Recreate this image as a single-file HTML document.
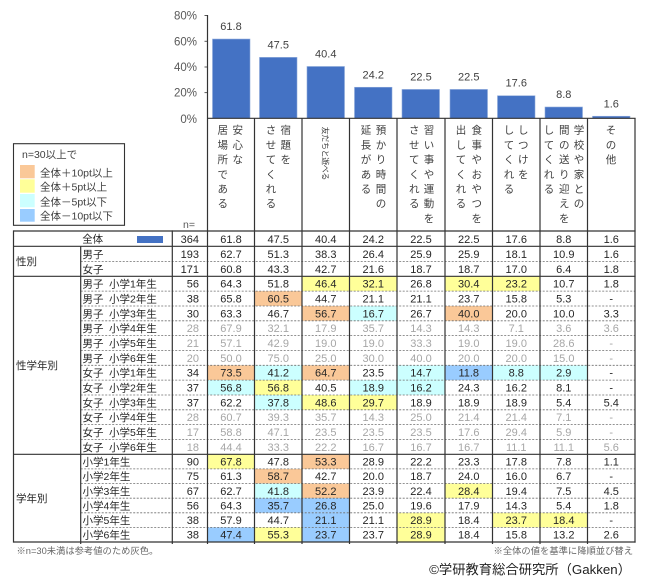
<!DOCTYPE html>
<html><head><meta charset="utf-8">
<style>
html,body{margin:0;padding:0;background:#fff;}
svg{display:block;}
text{font-family:"Liberation Sans","Noto Sans CJK JP",sans-serif;}
.d text{font-size:11px;fill:#262626;text-anchor:middle;}
.d text.n{text-anchor:end;}
.d text.l{text-anchor:start;font-size:10.5px;}
.g text{fill:#a6a6a6;}
.g text.l{fill:#262626;}
.h text{font-size:10.5px;fill:#404040;text-anchor:middle;}
.r text{font-size:8px;fill:#404040;text-anchor:middle;}
</style></head>
<body>
<svg width="657" height="585" viewBox="0 0 657 585" xmlns="http://www.w3.org/2000/svg">
<rect width="657" height="585" fill="#fff"/>

<g font-size="11.5" fill="#595959" text-anchor="end">
<text x="197" y="19.7">80%</text>
<text x="197" y="45.3">60%</text>
<text x="197" y="71">40%</text>
<text x="197" y="96.6">20%</text>
<text x="197" y="122.8">0%</text>
</g>
<g stroke="#595959" stroke-width="1">
<line x1="204.5" y1="15.5" x2="207.5" y2="15.5"/>
<line x1="204.5" y1="41.3" x2="207.5" y2="41.3"/>
<line x1="204.5" y1="67" x2="207.5" y2="67"/>
<line x1="204.5" y1="92.6" x2="207.5" y2="92.6"/>
</g>

<g fill="#4472C4" stroke="#8eaadb" stroke-width="0.6">
<rect x="212.5" y="39.04" width="37.5" height="79.26"/>
<rect x="259.5" y="57.38" width="37.5" height="60.92"/>
<rect x="307" y="66.49" width="37.5" height="51.81"/>
<rect x="354.5" y="87.26" width="37.5" height="31.04"/>
<rect x="402" y="89.44" width="37.5" height="28.86"/>
<rect x="450" y="89.44" width="37.5" height="28.86"/>
<rect x="497.5" y="95.73" width="37.5" height="22.57"/>
<rect x="545" y="107.01" width="37.5" height="11.29"/>
<rect x="592.5" y="116.25" width="37.5" height="2.05"/>
</g>
<g font-size="11" fill="#404040" text-anchor="middle">
<text x="231" y="30">61.8</text>
<text x="278.25" y="48.4">47.5</text>
<text x="325.75" y="57.5">40.4</text>
<text x="373.25" y="78.3">24.2</text>
<text x="421" y="80.4">22.5</text>
<text x="468.75" y="80.4">22.5</text>
<text x="516.25" y="86.7">17.6</text>
<text x="563.75" y="98">8.8</text>
<text x="611.25" y="107.3">1.6</text>
</g>

<g class="h">
<text x="237.7" y="133.7">安</text><text x="237.7" y="148.4">心</text><text x="237.7" y="163.1">な</text>
<text x="222.7" y="133.7">居</text><text x="222.7" y="148.4">場</text><text x="222.7" y="163.1">所</text><text x="222.7" y="177.8">で</text><text x="222.7" y="192.5">あ</text><text x="222.7" y="207.2">る</text>
<text x="285.7" y="133.7">宿</text><text x="285.7" y="148.4">題</text><text x="285.7" y="163.1">を</text>
<text x="271" y="133.7">さ</text><text x="271" y="148.4">せ</text><text x="271" y="163.1">て</text><text x="271" y="177.8">く</text><text x="271" y="192.5">れ</text><text x="271" y="207.2">る</text>
<text x="381" y="133.7">預</text><text x="381" y="148.4">か</text><text x="381" y="163.1">り</text><text x="381" y="177.8">時</text><text x="381" y="192.5">間</text><text x="381" y="207.2">の</text>
<text x="366" y="133.7">延</text><text x="366" y="148.4">長</text><text x="366" y="163.1">が</text><text x="366" y="177.8">あ</text><text x="366" y="192.5">る</text>
<text x="429" y="133.7">習</text><text x="429" y="148.4">い</text><text x="429" y="163.1">事</text><text x="429" y="177.8">や</text><text x="429" y="192.5">運</text><text x="429" y="207.2">動</text><text x="429" y="221.9">を</text>
<text x="414.3" y="133.7">さ</text><text x="414.3" y="148.4">せ</text><text x="414.3" y="163.1">て</text><text x="414.3" y="177.8">く</text><text x="414.3" y="192.5">れ</text><text x="414.3" y="207.2">る</text>
<text x="476.7" y="133.7">食</text><text x="476.7" y="148.4">事</text><text x="476.7" y="163.1">や</text><text x="476.7" y="177.8">お</text><text x="476.7" y="192.5">や</text><text x="476.7" y="207.2">つ</text><text x="476.7" y="221.9">を</text>
<text x="461" y="133.7">出</text><text x="461" y="148.4">し</text><text x="461" y="163.1">て</text><text x="461" y="177.8">く</text><text x="461" y="192.5">れ</text><text x="461" y="207.2">る</text>
<text x="523.3" y="133.7">し</text><text x="523.3" y="148.4">つ</text><text x="523.3" y="163.1">け</text><text x="523.3" y="177.8">を</text>
<text x="509" y="133.7">し</text><text x="509" y="148.4">て</text><text x="509" y="163.1">く</text><text x="509" y="177.8">れ</text><text x="509" y="192.5">る</text>
<text x="579" y="133.7">学</text><text x="579" y="148.4">校</text><text x="579" y="163.1">や</text><text x="579" y="177.8">家</text><text x="579" y="192.5">と</text><text x="579" y="207.2">の</text>
<text x="564.3" y="133.7">間</text><text x="564.3" y="148.4">の</text><text x="564.3" y="163.1">送</text><text x="564.3" y="177.8">り</text><text x="564.3" y="192.5">迎</text><text x="564.3" y="207.2">え</text><text x="564.3" y="221.9">を</text>
<text x="549" y="133.7">し</text><text x="549" y="148.4">て</text><text x="549" y="163.1">く</text><text x="549" y="177.8">れ</text><text x="549" y="192.5">る</text>
<text x="611" y="133.7">そ</text><text x="611" y="148.4">の</text><text x="611" y="163.1">他</text>
</g>
<g class="r">
<text transform="translate(325.5,130.8) rotate(90)" dy="2.8">友</text>
<text transform="translate(325.5,138.4) rotate(90)" dy="2.8">だ</text>
<text transform="translate(325.5,146) rotate(90)" dy="2.8">ち</text>
<text transform="translate(325.5,153.6) rotate(90)" dy="2.8">と</text>
<text transform="translate(325.5,161.2) rotate(90)" dy="2.8">遊</text>
<text transform="translate(325.5,168.8) rotate(90)" dy="2.8">べ</text>
<text transform="translate(325.5,176.4) rotate(90)" dy="2.8">る</text>
</g>

<rect x="13.5" y="143.7" width="111" height="81.6" fill="#fff" stroke="#333" stroke-width="1.1"/>
<g font-size="10.5" fill="#404040">
<text x="22" y="158">n=30以上で</text>
<rect x="20" y="165" width="14.7" height="13.3" fill="#FAC898"/>
<rect x="20" y="179.3" width="14.7" height="13.4" fill="#FFFF99"/>
<rect x="20" y="194" width="14.7" height="13.3" fill="#CCFFFF"/>
<rect x="20" y="209" width="14.7" height="12.7" fill="#99CCFF"/>
<text x="40" y="176.7">全体＋10pt以上</text>
<text x="40" y="190.7">全体＋5pt以上</text>
<text x="40" y="205.7">全体－5pt以下</text>
<text x="40" y="219.3">全体－10pt以下</text>
</g>
<text x="183" y="228" font-size="10.5" fill="#595959">n=</text>

<g>
<rect x="302" y="276.3" width="47.5" height="14.8" fill="#FFFF99"/>
<rect x="349.5" y="276.3" width="47.5" height="14.8" fill="#FFFF99"/>
<rect x="445" y="276.3" width="47.5" height="14.8" fill="#FFFF99"/>
<rect x="492.5" y="276.3" width="47.5" height="14.8" fill="#FFFF99"/>
<rect x="254.5" y="291.1" width="47.5" height="14.9" fill="#FAC898"/>
<rect x="302" y="306" width="47.5" height="14.8" fill="#FAC898"/>
<rect x="349.5" y="306" width="47.5" height="14.8" fill="#CCFFFF"/>
<rect x="445" y="306" width="47.5" height="14.8" fill="#FAC898"/>
<rect x="207.5" y="365.3" width="47" height="14.8" fill="#FAC898"/>
<rect x="254.5" y="365.3" width="47.5" height="14.8" fill="#CCFFFF"/>
<rect x="302" y="365.3" width="47.5" height="14.8" fill="#FAC898"/>
<rect x="397" y="365.3" width="48" height="14.8" fill="#CCFFFF"/>
<rect x="445" y="365.3" width="47.5" height="14.8" fill="#99CCFF"/>
<rect x="492.5" y="365.3" width="47.5" height="14.8" fill="#CCFFFF"/>
<rect x="540" y="365.3" width="47.5" height="14.8" fill="#CCFFFF"/>
<rect x="207.5" y="380.1" width="47" height="14.9" fill="#CCFFFF"/>
<rect x="254.5" y="380.1" width="47.5" height="14.9" fill="#FFFF99"/>
<rect x="349.5" y="380.1" width="47.5" height="14.9" fill="#CCFFFF"/>
<rect x="397" y="380.1" width="48" height="14.9" fill="#CCFFFF"/>
<rect x="254.5" y="395" width="47.5" height="14.8" fill="#CCFFFF"/>
<rect x="302" y="395" width="47.5" height="14.8" fill="#FFFF99"/>
<rect x="349.5" y="395" width="47.5" height="14.8" fill="#FFFF99"/>
<rect x="207.5" y="454.3" width="47" height="14.6" fill="#FFFF99"/>
<rect x="302" y="454.3" width="47.5" height="14.6" fill="#FAC898"/>
<rect x="254.5" y="468.9" width="47.5" height="14.6" fill="#FAC898"/>
<rect x="254.5" y="483.5" width="47.5" height="14.7" fill="#CCFFFF"/>
<rect x="302" y="483.5" width="47.5" height="14.7" fill="#FAC898"/>
<rect x="445" y="483.5" width="47.5" height="14.7" fill="#FFFF99"/>
<rect x="254.5" y="498.2" width="47.5" height="14.6" fill="#99CCFF"/>
<rect x="302" y="498.2" width="47.5" height="14.6" fill="#99CCFF"/>
<rect x="302" y="512.8" width="47.5" height="14.6" fill="#99CCFF"/>
<rect x="397" y="512.8" width="48" height="14.6" fill="#FFFF99"/>
<rect x="492.5" y="512.8" width="47.5" height="14.6" fill="#FFFF99"/>
<rect x="540" y="512.8" width="47.5" height="14.6" fill="#FFFF99"/>
<rect x="207.5" y="527.4" width="47" height="14.6" fill="#99CCFF"/>
<rect x="254.5" y="527.4" width="47.5" height="14.6" fill="#FFFF99"/>
<rect x="302" y="527.4" width="47.5" height="14.6" fill="#99CCFF"/>
<rect x="397" y="527.4" width="48" height="14.6" fill="#FFFF99"/>
</g>
<rect x="137" y="236" width="26" height="7" fill="#4472C4"/>

<g stroke="#6f6f6f" stroke-width="0.8" stroke-dasharray="2,1.5">
<line x1="80.7" y1="261.5" x2="635" y2="261.5"/>
<line x1="80.7" y1="291.1" x2="635" y2="291.1"/>
<line x1="80.7" y1="306" x2="635" y2="306"/>
<line x1="80.7" y1="320.8" x2="635" y2="320.8"/>
<line x1="80.7" y1="335.6" x2="635" y2="335.6"/>
<line x1="80.7" y1="350.5" x2="635" y2="350.5"/>
<line x1="80.7" y1="365.3" x2="635" y2="365.3"/>
<line x1="80.7" y1="380.1" x2="635" y2="380.1"/>
<line x1="80.7" y1="395" x2="635" y2="395"/>
<line x1="80.7" y1="409.8" x2="635" y2="409.8"/>
<line x1="80.7" y1="424.6" x2="635" y2="424.6"/>
<line x1="80.7" y1="439.5" x2="635" y2="439.5"/>
<line x1="80.7" y1="468.9" x2="635" y2="468.9"/>
<line x1="80.7" y1="483.5" x2="635" y2="483.5"/>
<line x1="80.7" y1="498.2" x2="635" y2="498.2"/>
<line x1="80.7" y1="512.8" x2="635" y2="512.8"/>
<line x1="80.7" y1="527.4" x2="635" y2="527.4"/>
</g>

<g stroke="#333" stroke-width="1.2">
<line x1="207.5" y1="15" x2="207.5" y2="544"/>
<line x1="207" y1="118.3" x2="635.6" y2="118.3"/>
<line x1="254.5" y1="118.3" x2="254.5" y2="544"/>
<line x1="302" y1="118.3" x2="302" y2="544"/>
<line x1="349.5" y1="118.3" x2="349.5" y2="544"/>
<line x1="397" y1="118.3" x2="397" y2="544"/>
<line x1="445" y1="118.3" x2="445" y2="544"/>
<line x1="492.5" y1="118.3" x2="492.5" y2="544"/>
<line x1="540" y1="118.3" x2="540" y2="544"/>
<line x1="587.5" y1="118.3" x2="587.5" y2="544"/>
<line x1="635" y1="118.3" x2="635" y2="542.6"/>
<line x1="13.5" y1="231" x2="635.6" y2="231"/>
<line x1="13.5" y1="246.3" x2="635.6" y2="246.3"/>
<line x1="13.5" y1="276.3" x2="635.6" y2="276.3"/>
<line x1="13.5" y1="454.3" x2="635.6" y2="454.3"/>
<line x1="13.5" y1="542" x2="635.6" y2="542"/>
<line x1="13.5" y1="230.4" x2="13.5" y2="542.6"/>
<line x1="80.7" y1="246.3" x2="80.7" y2="544"/>
<line x1="172.3" y1="230.4" x2="172.3" y2="544"/>
</g>

<g font-size="10.5" fill="#262626">
<text x="16" y="265">性別</text>
<text x="16" y="369">性学年別</text>
<text x="16" y="502">学年別</text>
<text x="92.7" y="242.6" text-anchor="middle">全体</text>
</g>

<g class="d">
<text class="n" x="199" y="242.9">364</text><text x="231" y="242.9">61.8</text><text x="278.25" y="242.9">47.5</text><text x="325.75" y="242.9">40.4</text><text x="373.25" y="242.9">24.2</text><text x="421" y="242.9">22.5</text><text x="468.75" y="242.9">22.5</text><text x="516.25" y="242.9">17.6</text><text x="563.75" y="242.9">8.8</text><text x="611.25" y="242.9">1.6</text>
</g>
<g class="d">
<text class="l" x="82.5" y="257.9">男子</text>
<text class="n" x="199" y="257.9">193</text><text x="231" y="257.9">62.7</text><text x="278.25" y="257.9">51.3</text><text x="325.75" y="257.9">38.3</text><text x="373.25" y="257.9">26.4</text><text x="421" y="257.9">25.9</text><text x="468.75" y="257.9">25.9</text><text x="516.25" y="257.9">18.1</text><text x="563.75" y="257.9">10.9</text><text x="611.25" y="257.9">1.6</text>
</g>
<g class="d">
<text class="l" x="82.5" y="272.9">女子</text>
<text class="n" x="199" y="272.9">171</text><text x="231" y="272.9">60.8</text><text x="278.25" y="272.9">43.3</text><text x="325.75" y="272.9">42.7</text><text x="373.25" y="272.9">21.6</text><text x="421" y="272.9">18.7</text><text x="468.75" y="272.9">18.7</text><text x="516.25" y="272.9">17.0</text><text x="563.75" y="272.9">6.4</text><text x="611.25" y="272.9">1.8</text>
</g>
<g class="d">
<text class="l" x="82.5" y="287.7">男子</text><text class="l" x="109" y="287.7">小学1年生</text>
<text class="n" x="199" y="287.7">56</text><text x="231" y="287.7">64.3</text><text x="278.25" y="287.7">51.8</text><text x="325.75" y="287.7">46.4</text><text x="373.25" y="287.7">32.1</text><text x="421" y="287.7">26.8</text><text x="468.75" y="287.7">30.4</text><text x="516.25" y="287.7">23.2</text><text x="563.75" y="287.7">10.7</text><text x="611.25" y="287.7">1.8</text>
</g>
<g class="d">
<text class="l" x="82.5" y="302.5">男子</text><text class="l" x="109" y="302.5">小学2年生</text>
<text class="n" x="199" y="302.5">38</text><text x="231" y="302.5">65.8</text><text x="278.25" y="302.5">60.5</text><text x="325.75" y="302.5">44.7</text><text x="373.25" y="302.5">21.1</text><text x="421" y="302.5">21.1</text><text x="468.75" y="302.5">23.7</text><text x="516.25" y="302.5">15.8</text><text x="563.75" y="302.5">5.3</text><text x="611.25" y="302.5">-</text>
</g>
<g class="d">
<text class="l" x="82.5" y="317.4">男子</text><text class="l" x="109" y="317.4">小学3年生</text>
<text class="n" x="199" y="317.4">30</text><text x="231" y="317.4">63.3</text><text x="278.25" y="317.4">46.7</text><text x="325.75" y="317.4">56.7</text><text x="373.25" y="317.4">16.7</text><text x="421" y="317.4">26.7</text><text x="468.75" y="317.4">40.0</text><text x="516.25" y="317.4">20.0</text><text x="563.75" y="317.4">10.0</text><text x="611.25" y="317.4">3.3</text>
</g>
<g class="d g">
<text class="l" x="82.5" y="332.2">男子</text><text class="l" x="109" y="332.2">小学4年生</text>
<text class="n" x="199" y="332.2">28</text><text x="231" y="332.2">67.9</text><text x="278.25" y="332.2">32.1</text><text x="325.75" y="332.2">17.9</text><text x="373.25" y="332.2">35.7</text><text x="421" y="332.2">14.3</text><text x="468.75" y="332.2">14.3</text><text x="516.25" y="332.2">7.1</text><text x="563.75" y="332.2">3.6</text><text x="611.25" y="332.2">3.6</text>
</g>
<g class="d g">
<text class="l" x="82.5" y="347">男子</text><text class="l" x="109" y="347">小学5年生</text>
<text class="n" x="199" y="347">21</text><text x="231" y="347">57.1</text><text x="278.25" y="347">42.9</text><text x="325.75" y="347">19.0</text><text x="373.25" y="347">19.0</text><text x="421" y="347">33.3</text><text x="468.75" y="347">19.0</text><text x="516.25" y="347">19.0</text><text x="563.75" y="347">28.6</text><text x="611.25" y="347">-</text>
</g>
<g class="d g">
<text class="l" x="82.5" y="361.9">男子</text><text class="l" x="109" y="361.9">小学6年生</text>
<text class="n" x="199" y="361.9">20</text><text x="231" y="361.9">50.0</text><text x="278.25" y="361.9">75.0</text><text x="325.75" y="361.9">25.0</text><text x="373.25" y="361.9">30.0</text><text x="421" y="361.9">40.0</text><text x="468.75" y="361.9">20.0</text><text x="516.25" y="361.9">20.0</text><text x="563.75" y="361.9">15.0</text><text x="611.25" y="361.9">-</text>
</g>
<g class="d">
<text class="l" x="82.5" y="376.7">女子</text><text class="l" x="109" y="376.7">小学1年生</text>
<text class="n" x="199" y="376.7">34</text><text x="231" y="376.7">73.5</text><text x="278.25" y="376.7">41.2</text><text x="325.75" y="376.7">64.7</text><text x="373.25" y="376.7">23.5</text><text x="421" y="376.7">14.7</text><text x="468.75" y="376.7">11.8</text><text x="516.25" y="376.7">8.8</text><text x="563.75" y="376.7">2.9</text><text x="611.25" y="376.7">-</text>
</g>
<g class="d">
<text class="l" x="82.5" y="391.5">女子</text><text class="l" x="109" y="391.5">小学2年生</text>
<text class="n" x="199" y="391.5">37</text><text x="231" y="391.5">56.8</text><text x="278.25" y="391.5">56.8</text><text x="325.75" y="391.5">40.5</text><text x="373.25" y="391.5">18.9</text><text x="421" y="391.5">16.2</text><text x="468.75" y="391.5">24.3</text><text x="516.25" y="391.5">16.2</text><text x="563.75" y="391.5">8.1</text><text x="611.25" y="391.5">-</text>
</g>
<g class="d">
<text class="l" x="82.5" y="406.4">女子</text><text class="l" x="109" y="406.4">小学3年生</text>
<text class="n" x="199" y="406.4">37</text><text x="231" y="406.4">62.2</text><text x="278.25" y="406.4">37.8</text><text x="325.75" y="406.4">48.6</text><text x="373.25" y="406.4">29.7</text><text x="421" y="406.4">18.9</text><text x="468.75" y="406.4">18.9</text><text x="516.25" y="406.4">18.9</text><text x="563.75" y="406.4">5.4</text><text x="611.25" y="406.4">5.4</text>
</g>
<g class="d g">
<text class="l" x="82.5" y="421.2">女子</text><text class="l" x="109" y="421.2">小学4年生</text>
<text class="n" x="199" y="421.2">28</text><text x="231" y="421.2">60.7</text><text x="278.25" y="421.2">39.3</text><text x="325.75" y="421.2">35.7</text><text x="373.25" y="421.2">14.3</text><text x="421" y="421.2">25.0</text><text x="468.75" y="421.2">21.4</text><text x="516.25" y="421.2">21.4</text><text x="563.75" y="421.2">7.1</text><text x="611.25" y="421.2">-</text>
</g>
<g class="d g">
<text class="l" x="82.5" y="436">女子</text><text class="l" x="109" y="436">小学5年生</text>
<text class="n" x="199" y="436">17</text><text x="231" y="436">58.8</text><text x="278.25" y="436">47.1</text><text x="325.75" y="436">23.5</text><text x="373.25" y="436">23.5</text><text x="421" y="436">23.5</text><text x="468.75" y="436">17.6</text><text x="516.25" y="436">29.4</text><text x="563.75" y="436">5.9</text><text x="611.25" y="436">-</text>
</g>
<g class="d g">
<text class="l" x="82.5" y="450.9">女子</text><text class="l" x="109" y="450.9">小学6年生</text>
<text class="n" x="199" y="450.9">18</text><text x="231" y="450.9">44.4</text><text x="278.25" y="450.9">33.3</text><text x="325.75" y="450.9">22.2</text><text x="373.25" y="450.9">16.7</text><text x="421" y="450.9">16.7</text><text x="468.75" y="450.9">16.7</text><text x="516.25" y="450.9">11.1</text><text x="563.75" y="450.9">11.1</text><text x="611.25" y="450.9">5.6</text>
</g>
<g class="d">
<text class="l" x="82.5" y="465.6">小学1年生</text>
<text class="n" x="199" y="465.6">90</text><text x="231" y="465.6">67.8</text><text x="278.25" y="465.6">47.8</text><text x="325.75" y="465.6">53.3</text><text x="373.25" y="465.6">28.9</text><text x="421" y="465.6">22.2</text><text x="468.75" y="465.6">23.3</text><text x="516.25" y="465.6">17.8</text><text x="563.75" y="465.6">7.8</text><text x="611.25" y="465.6">1.1</text>
</g>
<g class="d">
<text class="l" x="82.5" y="480.2">小学2年生</text>
<text class="n" x="199" y="480.2">75</text><text x="231" y="480.2">61.3</text><text x="278.25" y="480.2">58.7</text><text x="325.75" y="480.2">42.7</text><text x="373.25" y="480.2">20.0</text><text x="421" y="480.2">18.7</text><text x="468.75" y="480.2">24.0</text><text x="516.25" y="480.2">16.0</text><text x="563.75" y="480.2">6.7</text><text x="611.25" y="480.2">-</text>
</g>
<g class="d">
<text class="l" x="82.5" y="494.8">小学3年生</text>
<text class="n" x="199" y="494.8">67</text><text x="231" y="494.8">62.7</text><text x="278.25" y="494.8">41.8</text><text x="325.75" y="494.8">52.2</text><text x="373.25" y="494.8">23.9</text><text x="421" y="494.8">22.4</text><text x="468.75" y="494.8">28.4</text><text x="516.25" y="494.8">19.4</text><text x="563.75" y="494.8">7.5</text><text x="611.25" y="494.8">4.5</text>
</g>
<g class="d">
<text class="l" x="82.5" y="509.5">小学4年生</text>
<text class="n" x="199" y="509.5">56</text><text x="231" y="509.5">64.3</text><text x="278.25" y="509.5">35.7</text><text x="325.75" y="509.5">26.8</text><text x="373.25" y="509.5">25.0</text><text x="421" y="509.5">19.6</text><text x="468.75" y="509.5">17.9</text><text x="516.25" y="509.5">14.3</text><text x="563.75" y="509.5">5.4</text><text x="611.25" y="509.5">1.8</text>
</g>
<g class="d">
<text class="l" x="82.5" y="524.1">小学5年生</text>
<text class="n" x="199" y="524.1">38</text><text x="231" y="524.1">57.9</text><text x="278.25" y="524.1">44.7</text><text x="325.75" y="524.1">21.1</text><text x="373.25" y="524.1">21.1</text><text x="421" y="524.1">28.9</text><text x="468.75" y="524.1">18.4</text><text x="516.25" y="524.1">23.7</text><text x="563.75" y="524.1">18.4</text><text x="611.25" y="524.1">-</text>
</g>
<g class="d">
<text class="l" x="82.5" y="538.7">小学6年生</text>
<text class="n" x="199" y="538.7">38</text><text x="231" y="538.7">47.4</text><text x="278.25" y="538.7">55.3</text><text x="325.75" y="538.7">23.7</text><text x="373.25" y="538.7">23.7</text><text x="421" y="538.7">28.9</text><text x="468.75" y="538.7">18.4</text><text x="516.25" y="538.7">15.8</text><text x="563.75" y="538.7">13.2</text><text x="611.25" y="538.7">2.6</text>
</g>

<text x="16.5" y="554" font-size="9.3" fill="#666">※n=30未満は参考値のため灰色。</text>
<text x="633" y="554" font-size="9.3" fill="#666" text-anchor="end">※全体の値を基準に降順並び替え</text>
<text x="631" y="574" font-size="13.3" fill="#222" text-anchor="end">©学研教育総合研究所（Gakken）</text>
</svg>
</body></html>
